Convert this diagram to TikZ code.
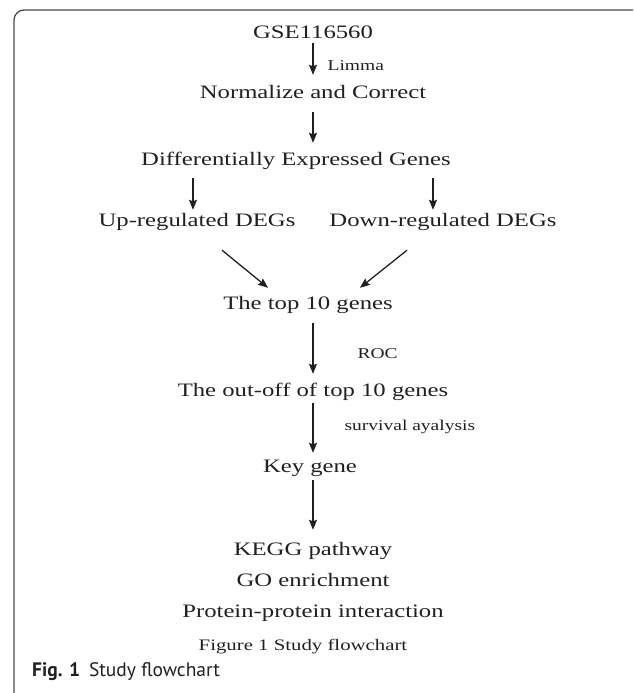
\documentclass[tikz,border=0pt]{standalone}
\usepackage{fontspec}
\setmainfont[FakeStretch=1.3]{Liberation Serif}
\newfontfamily\capfont{PT Sans}
\usepackage{tikz}
\usetikzlibrary{arrows.meta,calc}
\definecolor{ink}{HTML}{231F20}
\definecolor{rule}{HTML}{4A4A4A}
\tikzset{
  stage/.style={inner sep=0pt, anchor=base, text height=12pt, text depth=4pt, font=\fontsize{19}{21}\selectfont, text=ink},
  lbl/.style={inner sep=0pt, font=\fontsize{15}{17}\selectfont, text=ink},
  flow/.style={-{Stealth[length=10pt,width=8pt,inset=1.5pt]}, line width=1.3pt, draw=ink},
  caption/.style={anchor=base west, inner sep=0pt, font=\capfont\fontsize{19.5}{22}\selectfont, text=ink},
}

\begin{document}
\begin{tikzpicture}[x=1pt,y=-1pt]
  \useasboundingbox (0,0) rectangle (633,693);
  \draw[rule, line width=1.3pt, rounded corners=10pt] (14,693) -- (14,10) -- (633,10);

  % stages
  \node[stage] (gse)  at (313,38)  {GSE116560};
  \node[stage] (norm) at (313,98)  {Normalize and Correct};
  \node[stage] (deg)  at (296,165) {Differentially Expressed Genes};
  \node[stage] (up)   at (197,226) {Up-regulated DEGs};
  \node[stage] (down) at (443,226) {Down-regulated DEGs};
  \node[stage] (top)  at (308,309) {The top 10 genes};
  \node[stage] (cut)  at (313,396) {The out-off of top 10 genes};
  \node[stage] (key)  at (310,472) {Key gene};
  \node[stage] (kegg) at (313,555) {KEGG pathway};
  \node[stage] (go)   at (313,586) {GO enrichment};
  \node[stage] (ppi)  at (313,617) {Protein-protein interaction};
  \node[lbl, anchor=base] (fig) at (303,650) {\fontsize{16}{18}\selectfont Figure 1 Study flowchart};
  \node[caption] (cap) at (32,676) {\textbf{Fig. 1}\hspace{0.45em}Study flowchart};

  % arrows
  \draw[flow, shorten <=1pt, shorten >=11pt] (gse.south) -- node[lbl, right=14pt, yshift=-2pt]{Limma} (norm.north);
  \draw[flow, shorten <=10pt, shorten >=10pt] (norm.south) -- (norm.south |- deg.north);
  \draw[flow, shorten <=9pt, shorten >=4pt] ($(up.north |- deg.south)+(-4,0)$) -- ($(up.north)+(-4,0)$);
  \draw[flow, shorten <=9pt, shorten >=4pt] ($(down.north |- deg.south)+(-10,0)$) -- ($(down.north)+(-10,0)$);
  \draw[flow] ($(up.south)+(25,20)$) -- ($(top.north)+(-40,-9)$);
  \draw[flow] ($(down.south)+(-36,20)$) -- ($(top.north)+(52,-9)$);
  \draw[flow, shorten <=10pt, shorten >=10pt] (top.south -| cut.north) -- node[lbl, right=44pt, yshift=-5pt]{ROC} (cut.north);
  \draw[flow, shorten <=3pt, shorten >=7pt] (cut.south) -- node[lbl, right=31pt, yshift=3pt]{survival ayalysis} (cut.south |- key.north);
  \draw[flow, shorten <=4pt, shorten >=13pt] (key.south -| kegg.north) -- (kegg.north);
\end{tikzpicture}
\end{document}
